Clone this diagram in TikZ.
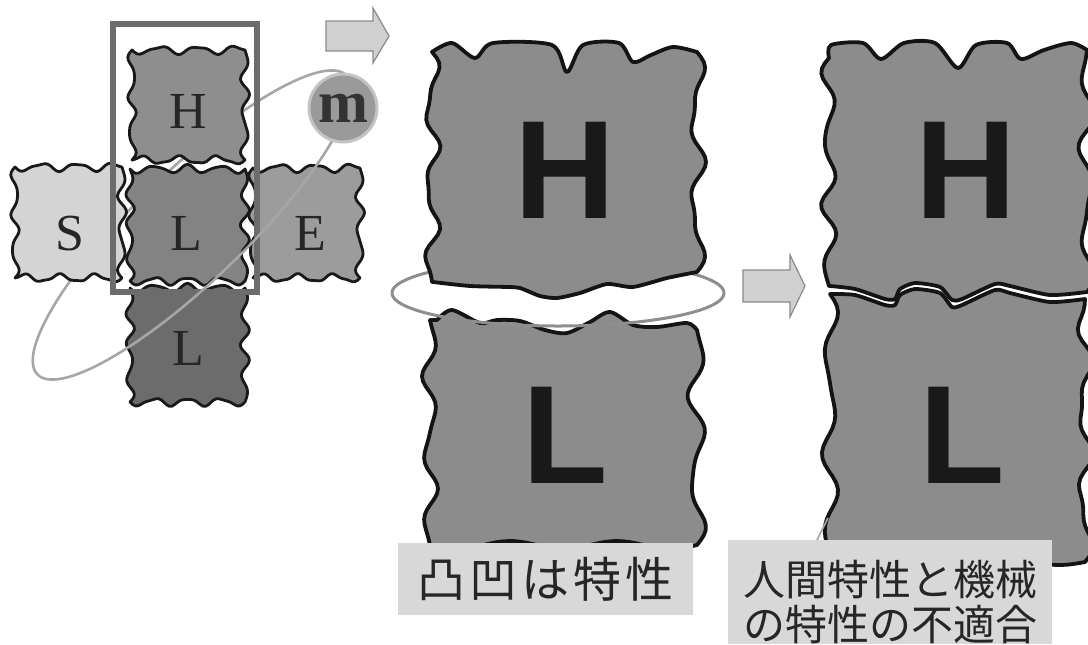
\documentclass[tikz,border=0pt]{standalone}
\usepackage{fontspec}
\newfontfamily\jpfont{Noto Sans CJK JP}
\newfontfamily\serfont{Liberation Serif}
\newfontfamily\sanfont{Liberation Sans}
\definecolor{bigfill}{HTML}{8C8C8C}
\definecolor{hfill}{HTML}{8E8E8E}
\definecolor{lfill}{HTML}{838383}
\definecolor{blfill}{HTML}{6C6C6C}
\definecolor{sfill}{HTML}{D4D4D4}
\definecolor{efill}{HTML}{9C9C9C}
\definecolor{mfill}{HTML}{9A9A9A}
\definecolor{mring}{HTML}{C4C4C4}
\definecolor{framec}{HTML}{6C6C6C}
\definecolor{orbitc}{HTML}{A6A6A6}
\definecolor{ringc}{HTML}{8E8E8E}
\definecolor{arrfill}{HTML}{D0D0D0}
\definecolor{arrline}{HTML}{8A8A8A}
\definecolor{labfill}{HTML}{D8D8D8}
\definecolor{txtc}{HTML}{262626}
\tikzset{
  wv/.style={domain=0:1,samples=45,variable=\zz},
  smblk/.style={draw=black!90,line width=1.4pt,line join=round},
  bigblk/.style={draw=black!92,line width=1.9pt,line join=round,fill=bigfill},
  serl/.style={font=\serfont\fontsize{26pt}{26pt}\selectfont,text=txtc,anchor=base,inner sep=0pt},
  bigl/.style={font=\sanfont\bfseries\fontsize{70pt}{70pt}\selectfont,text=black!90,anchor=base,inner sep=0pt},
  mball/.style={circle,fill=mfill,draw=mring,line width=1.5pt,minimum size=34pt,inner sep=0pt,
    font=\serfont\bfseries\fontsize{30pt}{30pt}\selectfont,text=black!80},
  blockarrow/.style={fill=arrfill,draw=arrline,line width=0.6pt,line join=miter},
  orbit/.style={draw=orbitc,line width=1.3pt},
  ring/.style={draw=ringc,line width=1.5pt},
  labtxt/.style={font=\jpfont\fontsize{21pt}{22.5pt}\selectfont,text=txtc,inner sep=0pt,align=center},
}
\newcommand{\hwave}[4]{-- plot[wv] ({#1+(#2-#1)*\zz},{#3+(#4)})}
\newcommand{\vwave}[4]{-- plot[wv] ({#1+(#4)},{#2+(#3-#2)*\zz})}
\newcommand{\sblock}[6]{\path[smblk,fill=#5] (#1,#2)
  \hwave{#1}{#3}{#2}{3.5*sin(180*#6*\zz)+1.2*sin(180*11*\zz)}
  \vwave{#3}{#2}{#4}{3.5*sin(180*#6*\zz)-1.2*sin(180*9*\zz)}
  \hwave{#3}{#1}{#4}{3.5*sin(180*#6*\zz)+1.0*sin(180*13*\zz)}
  \vwave{#1}{#4}{#2}{3.5*sin(180*#6*\zz)+1.0*sin(180*10*\zz)} -- cycle;}
\begin{document}
\begin{tikzpicture}[x=0.5pt,y=-0.5pt]
\useasboundingbox (0,0) rectangle (1088,644);

% ---------- left: SHEL model ----------
\path[fill=white] (113,24) rectangle (257,292);
\draw[orbit] plot[domain=0:180,samples=90,variable=\zz]
  ({192+154.6*cos(\zz)-38.2*sin(\zz)},{225-149.4*cos(\zz)-39.6*sin(\zz)});
\sblock{15}{167}{122}{278}{sfill}{6}
\sblock{253}{168}{360}{278}{efill}{6}
\sblock{130}{288}{245}{402}{blfill}{7}
\sblock{132}{50}{245}{160}{hfill}{6}
\sblock{130}{169}{245}{281}{lfill}{7}
\draw[draw=framec,line width=3pt] (113,24) rectangle (257,292);
\node[serl] (sS) at (70,250) {S};
\node[serl] (sE) at (310,250) {E};
\node[serl] (sH) at (188,128) {H};
\node[serl] (sL) at (186,250) {L};
\node[serl] (sL2) at (188,365) {L};
\draw[orbit] plot[domain=180:360,samples=90,variable=\zz]
  ({192+154.6*cos(\zz)-38.2*sin(\zz)},{225-149.4*cos(\zz)-39.6*sin(\zz)});
\node[mball] (m) at (343,108) {m};

% top arrow
\path[blockarrow] (326,21) -- (373,21) -- (373,8) -- (389,36) -- (373,63) -- (373,51) -- (326,51) -- cycle;

% ---------- middle: H over L with gap ----------
\draw[ring] plot[domain=0:180,samples=80,variable=\zz] ({558+166*cos(\zz)},{293-33*sin(\zz)});
\path[bigblk] plot[smooth,tension=0.5] coordinates {(432,52) (452,43) (475,58) (493,43) (552,45) (567,72) (583,45) (619,43) (633,62) (651,55) (673,47) (697,52)}
  \vwave{697}{52}{272}{6*sin(180*5*\zz)+3*sin(180*9*\zz)}
  -- plot[smooth,tension=0.4] coordinates {(697,272) (667,278) (633,287) (607,284) (580,293) (557,298) (540,296) (520,288) (508,287) (470,286) (433,282)}
  \vwave{432}{282}{52}{-6*sin(180*6*\zz)+2.5*sin(180*11*\zz)} -- cycle;
\path[bigblk] plot[smooth,tension=0.5] coordinates {(437,320) (452,310) (480,323) (497,320) (520,321) (545,330) (567,333) (590,322) (610,312) (633,325) (657,327) (687,323) (697,330)}
  \vwave{697}{330}{545}{7*sin(180*5*\zz)-2.5*sin(180*8*\zz)}
  \hwave{697}{430}{545}{4*sin(180*5*\zz)}
  \vwave{430}{545}{320}{-6*sin(180*6*\zz)+2*sin(180*10*\zz)} -- cycle;
\node[bigl] (mH) at (565,218) {H};
\node[bigl] (mL) at (565,483) {L};
\draw[ring] plot[domain=180:360,samples=80,variable=\zz] ({558+166*cos(\zz)},{293-33*sin(\zz)});

% middle arrow
\path[blockarrow] (743,270) -- (790,270) -- (790,255) -- (805,286) -- (790,317) -- (790,302) -- (743,302) -- cycle;

% ---------- right: H pressed on L ----------
\path[bigblk] plot[smooth,tension=0.5] coordinates {(829,58) (831,45) (863,43) (881,59) (904,43) (935,43) (958,68) (976,45) (1007,43) (1021,59) (1044,50) (1071,43) (1087,50)}
  \vwave{1087}{50}{292}{-6*sin(180*6*\zz)+3*sin(180*9*\zz)}
  -- plot[smooth,tension=0.4] coordinates {(1087,292) (1050,295) (1010,286) (995,284) (962,299) (952,300) (940,287) (915,283) (900,289) (895,299) (885,299) (855,289) (830,286)}
  \vwave{829}{286}{58}{-6*sin(180*7*\zz)+2*sin(180*10*\zz)} -- cycle;
\path[bigblk] plot[smooth,tension=0.4] coordinates {(830,294) (855,295) (885,305) (895,305) (900,295) (915,289) (940,293) (952,307) (962,305) (995,290) (1010,293) (1050,302) (1085,299)}
  \vwave{1085}{299}{562}{-6*sin(180*6*\zz)+3*sin(180*11*\zz)}
  \hwave{1085}{830}{562}{3*sin(180*5*\zz)}
  \vwave{830}{562}{294}{-6*sin(180*6*\zz)+2.5*sin(180*9*\zz)} -- cycle;
\node[bigl] (rH) at (966,218) {H};
\node[bigl] (rL) at (962,483) {L};
\draw[draw=orbitc,line width=0.8pt] (813,548) -- (828,518);

% ---------- labels ----------
\node[labtxt,fill=labfill,minimum width=147.5pt,minimum height=36pt,font=\jpfont\fontsize{24pt}{24pt}\selectfont] (lab1) at (545.5,579)
  {凸\hspace{2pt}凹\hspace{2pt}は\hspace{2pt}特\hspace{2pt}性};
\path[fill=labfill] (728,540) rectangle (1052,644);
\node[labtxt] (lab2) at (890,602) {人間特性と機械\\の特性の不適合};
\end{tikzpicture}
\end{document}
